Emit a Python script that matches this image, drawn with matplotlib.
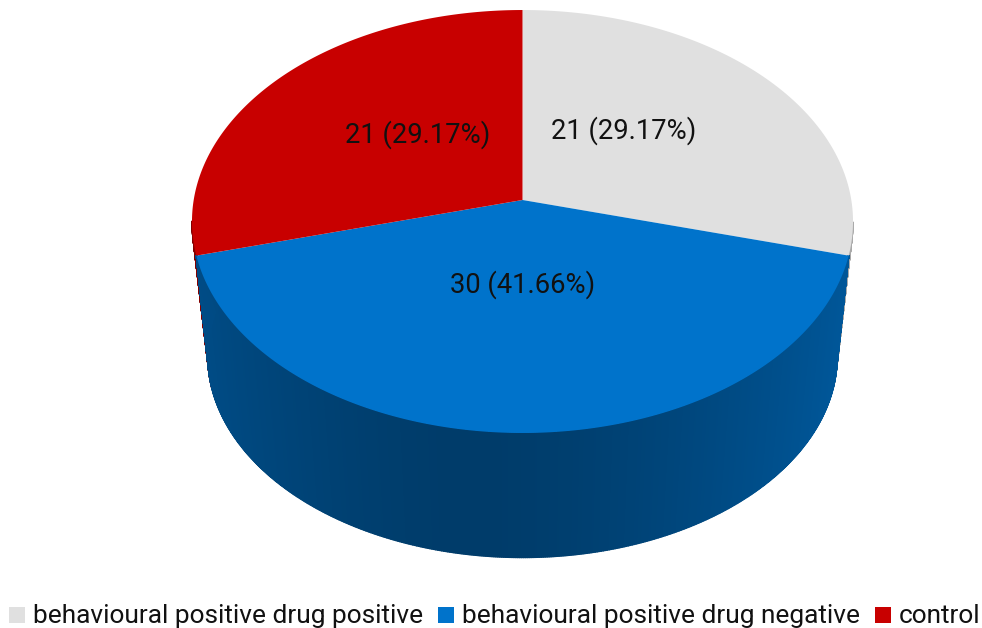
import numpy as np
import matplotlib
matplotlib.use("Agg")
import matplotlib.pyplot as plt
from matplotlib.collections import PolyCollection
from matplotlib.patches import Polygon, Rectangle

plt.rcParams['font.family'] = ['Roboto', 'DejaVu Sans']

categories = ['behavioural positive drug positive', 'behavioural positive drug negative', 'control']
counts = [21, 30, 21]
percent_labels = ['21 (29.17%)', '30 (41.66%)', '21 (29.17%)']
colors = ['#e0e0e0', '#0073cb', '#c80000']

CX = 522.5


def project(theta, a, b, k, y0):
    # theta runs clockwise from the back of the disc, the near side is shrunk less
    u = np.sin(theta)
    v = -np.cos(theta)
    w = 1 - k * v
    return CX + a * u / w, y0 + b * v / w


def top_rim(theta):
    return project(theta, 328.8, 209.3, 0.1017, 200.0)


def bottom_rim(theta):
    return project(theta, 313.0, 199.0, 0.1017, 336.0)


def wall_shade(x):
    # darkest left of the middle, lighter towards both sides
    d = (x - 470.0) / 330.0
    return 0.52 + 0.20 * np.abs(d) ** 1.6


fig = plt.figure(figsize=(9.82, 6.28), dpi=100)
ax = fig.add_axes([0, 0, 1, 1])
ax.set_xlim(0, 982)
ax.set_ylim(628, 0)
ax.axis('off')

fractions = np.array(counts) / sum(counts)
edges = np.concatenate([[0], np.cumsum(fractions)]) * 2 * np.pi

# side wall, thin vertical strips so the shading can change along the rim
# the largest slice goes last, it faces the viewer
for i in np.argsort(fractions):
    n = int(fractions[i] * 1400)
    t = np.linspace(edges[i], edges[i + 1], n + 1)
    t_low = t
    if fractions[i] == fractions.max():
        # bottom rim runs on past the slice ends, out to the silhouette of the disc
        pad = np.radians(22)
        t_low = np.linspace(edges[i] - pad, edges[i + 1] + pad, n + 1)
        t = np.clip(t_low, edges[i], edges[i + 1])
    xt, yt = top_rim(t)
    xb, yb = bottom_rim(t_low)
    base = np.array(matplotlib.colors.to_rgb(colors[i]))
    quads = []
    shades = []
    for j in range(n):
        # the far part is hidden behind the top face
        if np.cos(t[j]) > -0.1:
            continue
        quads.append([(xt[j], yt[j]), (xt[j + 1], yt[j + 1]), (xb[j + 1], yb[j + 1]), (xb[j], yb[j])])
        shades.append(base * wall_shade((xb[j] + xb[j + 1]) / 2))
    ax.add_collection(PolyCollection(quads, facecolors=shades, edgecolors=shades, linewidths=1.0))

# top face
for i in range(len(counts)):
    t = np.linspace(edges[i], edges[i + 1], 300)
    xt, yt = top_rim(t)
    pts = np.column_stack([np.r_[CX, xt], np.r_[200.0, yt]])
    ax.add_patch(Polygon(pts, closed=True, facecolor=colors[i], edgecolor='none'))

# value labels
ax.text(623.5, 131, percent_labels[0], ha='center', va='center', fontsize=19.7, color='#111111')
ax.text(522.5, 285, percent_labels[1], ha='center', va='center', fontsize=19.7, color='#111111')
ax.text(417.5, 135, percent_labels[2], ha='center', va='center', fontsize=19.7, color='#111111')

# legend row along the bottom edge
legend_box_x = [9, 438, 875]
legend_text_x = [33, 462, 899]
for i in range(len(categories)):
    ax.add_patch(Rectangle((legend_box_x[i], 607), 16, 16, facecolor=colors[i], edgecolor='none'))
    ax.text(legend_text_x[i], 623, categories[i], ha='left', va='baseline', fontsize=18.9, color='#111111')

fig.savefig('out.png', dpi=100)
